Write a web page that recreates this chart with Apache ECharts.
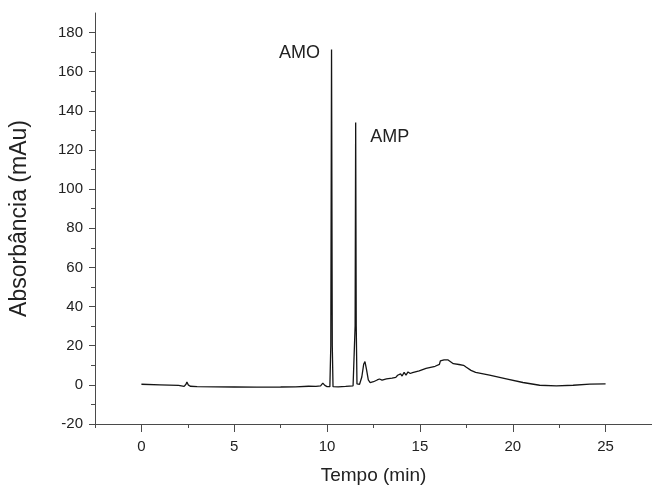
<!DOCTYPE html>
<html>
<head>
<meta charset="utf-8">
<script src="https://cdn.jsdelivr.net/npm/echarts@6/dist/echarts.min.js"></script>
<style>
html,body{margin:0;padding:0;background:#fff;}
#chart{width:652px;height:486px;}
</style>
</head>
<body>
<div id="chart"></div>
<script>
// Chromatogram data (time in min, absorbance in mAu)
const time = [0, 1.0, 2.0, 2.3, 2.4, 2.45, 2.52, 2.63, 3.0, 4.0, 5.0, 6.2, 7.5, 8.3, 8.35, 9.0, 9.4, 9.65, 9.77, 9.88, 10.0, 10.15,
  10.20, 10.24, 10.28, 10.32, 10.6, 11.0, 11.4, 11.48, 11.51, 11.54, 11.57, 11.61, 11.75, 11.87, 11.97, 12.04, 12.12, 12.22, 12.32,
  12.5, 12.7, 12.82, 12.96, 13.2, 13.5, 13.7, 13.8, 13.88, 13.96, 14.04, 14.15, 14.25, 14.36, 14.48, 14.6, 14.96, 15.33, 15.82,
  16.05, 16.1, 16.3, 16.5, 16.6, 16.8, 17.1, 17.35, 17.5, 17.75, 18.0, 18.75, 19.65, 20.55, 21.45, 22.35, 23.25, 24.15, 25.0];
const absorbance = [0.3, 0.0, -0.3, -0.8, 0.3, 1.5, 0.0, -0.7, -0.9, -1.0, -1.1, -1.2, -1.1, -1.0, -0.7, -0.7, -0.8, -0.5, 0.9, -0.3, -0.9, -0.9,
  20, 171.4, 20, -0.9, -1.0, -0.8, -0.5, -0.3, 30, 134, 30, 0.5, 0.3, 4, 10.5, 11.9, 8, 2.5, 1.2,
  1.6, 2.5, 3.0, 2.4, 3.1, 3.4, 3.8, 4.9, 4.0, 5.6, 4.5, 6.4, 5.0, 6.6, 5.8, 6.2, 7.2, 8.4, 9.5,
  10.5, 12.2, 12.8, 12.8, 12.3, 10.8, 10.4, 10.0, 9.0, 7.4, 6.4, 5.0, 3.1, 1.2, -0.2, -0.5, -0.2, 0.35, 0.5];

// Axis ticks / labels
const xMajorTicks = [0, 5, 10, 15, 20, 25];
const xMinorTicks = [-2.5, 2.5, 7.5, 12.5, 17.5, 22.5];
const yMajorTicks = [-20, 0, 20, 40, 60, 80, 100, 120, 140, 160, 180];
const yMinorTicks = [-10, 10, 30, 50, 70, 90, 110, 130, 150, 170];

// Peak annotations
const peakNames = ['AMO', 'AMP'];
const peakTimes = [10.24, 11.54];

const seriesData = time.map((t, i) => [t, absorbance[i]]);
const peakCoords = peakTimes.map(t => [t, absorbance[time.indexOf(t)]]);

const FONT = '"Liberation Sans", Arial, Helvetica, sans-serif';
const AXIS_COLOR = '#4a4a4a';
const TEXT_COLOR = '#222';

const chart = echarts.init(document.getElementById('chart'), null, {renderer: 'canvas'});
chart.setOption({
  animation: false,
  backgroundColor: '#fff',
  grid: {left: 95, right: 0, top: 13, bottom: 62, containLabel: false, outerBoundsMode: 'none'},
  xAxis: [
    {
      type: 'value', min: -2.5, max: 27.5, interval: 2.5,
      position: 'bottom',
      name: 'Tempo (min)', nameLocation: 'middle', nameGap: 42,
      nameTextStyle: {fontFamily: FONT, fontSize: 19, color: TEXT_COLOR},
      axisLine: {show: true, onZero: false, lineStyle: {color: AXIS_COLOR, width: 1}},
      axisTick: {show: true, customValues: xMajorTicks, length: 8, lineStyle: {color: AXIS_COLOR}},
      axisLabel: {show: true, customValues: xMajorTicks, margin: 15, fontFamily: FONT, fontSize: 15, color: TEXT_COLOR},
      splitLine: {show: false}
    },
    {
      type: 'value', min: -2.5, max: 27.5, interval: 2.5,
      position: 'bottom', offset: 0,
      axisLine: {show: false, onZero: false},
      axisTick: {show: true, customValues: xMinorTicks, length: 4, lineStyle: {color: AXIS_COLOR}},
      axisLabel: {show: false},
      splitLine: {show: false}
    }
  ],
  yAxis: [
    {
      type: 'value', min: -20, max: 190, interval: 20,
      position: 'left',
      name: 'Absorbância (mAu)', nameLocation: 'middle', nameGap: 64, nameRotate: 90,
      nameTextStyle: {fontFamily: FONT, fontSize: 23, color: TEXT_COLOR},
      axisLine: {show: true, onZero: false, lineStyle: {color: AXIS_COLOR, width: 1}},
      axisTick: {show: true, customValues: yMajorTicks, length: 6, lineStyle: {color: AXIS_COLOR}},
      axisLabel: {show: true, customValues: yMajorTicks, margin: 12, fontFamily: FONT, fontSize: 15, color: TEXT_COLOR},
      splitLine: {show: false}
    },
    {
      type: 'value', min: -20, max: 190, interval: 20,
      position: 'left', offset: 0,
      axisLine: {show: false, onZero: false},
      axisTick: {show: true, customValues: yMinorTicks, length: 4, lineStyle: {color: AXIS_COLOR}},
      axisLabel: {show: false},
      splitLine: {show: false}
    }
  ],
  series: [{
    type: 'line',
    xAxisIndex: 0, yAxisIndex: 0,
    data: seriesData,
    showSymbol: false,
    symbol: 'none',
    smooth: false,
    sampling: null,
    lineStyle: {color: '#151515', width: 1.3},
    markPoint: {
      symbol: 'circle', symbolSize: 1,
      itemStyle: {color: 'rgba(0,0,0,0)'},
      data: [
        {coord: peakCoords[0], value: peakNames[0],
         label: {show: true, formatter: peakNames[0], position: 'left', distance: 11, offset: [0, 4],
                 fontFamily: FONT, fontSize: 18, color: TEXT_COLOR}},
        {coord: peakCoords[1], value: peakNames[1],
         label: {show: true, formatter: peakNames[1], position: 'right', distance: 14, offset: [0, 14],
                 fontFamily: FONT, fontSize: 18, color: TEXT_COLOR}}
      ]
    }
  }]
});
</script>
</body>
</html>
